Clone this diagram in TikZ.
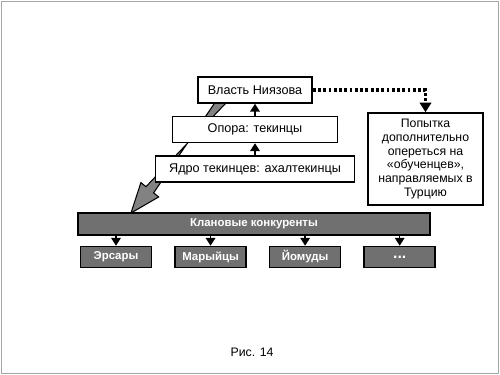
\documentclass[tikz,border=0pt]{standalone}
\usepackage{xcolor}
\usepackage{fontspec}
\setmainfont{Liberation Sans}
\usepackage{tikz}
\usetikzlibrary{arrows.meta, positioning, calc}

\definecolor{clangray}{RGB}{112,112,112}
\definecolor{bigarrowgray}{RGB}{130,130,130}

\begin{document}
\begin{tikzpicture}[x=0.02cm, y=-0.02cm, thick,
        box/.style={rectangle, draw, line width=0.85pt, fill=white, minimum height=0.52cm, inner sep=1pt, font=\fontsize{7.2}{8.6}\selectfont},
        clanbox/.style={rectangle, draw, line width=0.9pt, fill=clangray, text=white, inner sep=1pt, font=\fontsize{6.5}{7.8}\selectfont\bfseries},
        subbox/.style={clanbox, minimum width=1.42cm, minimum height=0.42cm},
        arr/.style={-{Triangle[width=5.5pt,length=4.5pt]}, line width=0.8pt},
        dotline/.style={line width=1.9pt, dash pattern=on 1.6pt off 1.4pt, -{Triangle[width=6.5pt,length=5.5pt]}}]
        \useasboundingbox (0,0) rectangle (500,375);
        \draw[gray!70, line width=0.4pt] (1,1) rectangle (498,373);

        % Big arrow (behind the boxes)
        \coordinate (bigfrom) at (224,98);
        \coordinate (bigtip) at (131,213);
        \coordinate (bighead) at ($(bigtip)!17pt!(bigfrom)$);
        \draw[line width=0.6pt, fill=bigarrowgray]
            ($(bigfrom)!2.8pt!90:(bigtip)$) -- ($(bighead)!2.8pt!-90:(bigtip)$)
            -- ($(bighead)!6.5pt!-90:(bigtip)$) -- (bigtip)
            -- ($(bighead)!6.5pt!90:(bigtip)$) -- ($(bighead)!2.8pt!90:(bigtip)$)
            -- ($(bigfrom)!2.8pt!-90:(bigtip)$) -- cycle;

        % Power pyramid
        \node (Vlast) [box, minimum width=2.28cm] at (255,90) {Власть Ниязова};
        \node (Opora) [box, minimum width=3.3cm, below=0.24cm of Vlast] {Опора: текинцы};
        \node (Jadro) [box, minimum width=3.98cm, below=0.24cm of Opora] {Ядро текинцев: ахалтекинцы};

        \draw[arr] (Jadro) -- (Opora);
        \draw[arr] (Opora) -- (Vlast);

        % Side note
        \node (Info) [box, minimum width=2.3cm, minimum height=1.84cm, align=center,
            font=\fontsize{7}{7.8}\selectfont] at (425.5,159)
            {Попытка\\дополнительно\\опереться на\\«обученцев»,\\направляемых в\\Турцию};
        \draw[dotline] (Vlast) -- (Vlast -| Info) -- (Info);

        % Clans
        \node (Klan) [clanbox, minimum width=7.04cm, minimum height=0.44cm] at (254,224) {Клановые конкуренты};
        \node (Ersary) [subbox] at (116,257) {Эрсары};
        \node (Maryjcy) [subbox, right=0.44cm of Ersary] {Марыйцы};
        \node (Jomudy) [subbox, right=0.44cm of Maryjcy] {Йомуды};
        \node (Other) [subbox, right=0.44cm of Jomudy, font=\fontsize{9}{9}\selectfont\bfseries] {...};

        \draw[arr] (Klan.south -| Ersary) -- (Ersary);
        \draw[arr] (Klan.south -| Maryjcy) -- (Maryjcy);
        \draw[arr] (Klan.south -| Jomudy) -- (Jomudy);
        \draw[arr] (Klan.south -| Other) -- (Other);

        \node (Caption) at (252,352) {\fontsize{7}{8}\selectfont Рис. 14};
    \end{tikzpicture}
\end{document}
